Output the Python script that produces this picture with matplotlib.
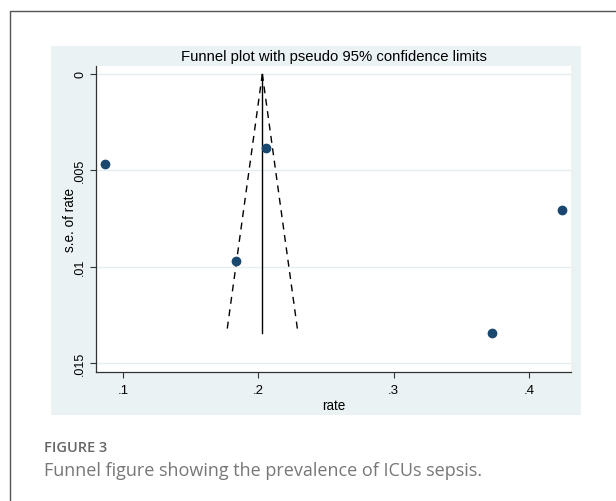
import matplotlib.pyplot as plt
from matplotlib.patches import Rectangle
from matplotlib.lines import Line2D

# Study estimates
rate = [0.0863, 0.2055, 0.4245, 0.1832, 0.3728]
se_rate = [0.00467, 0.00383, 0.00706, 0.00969, 0.01346]

# Pooled estimate and funnel limits
pooled = 0.2029
se_max = 0.01346
z = 1.96

x_ticks = [0.1, 0.2, 0.3, 0.4]
x_tick_labels = [".1", ".2", ".3", ".4"]
y_ticks = [0, 0.005, 0.01, 0.015]
y_tick_labels = ["0", ".005", ".01", ".015"]

W, H = 616, 502
fig = plt.figure(figsize=(W / 100, H / 100), dpi=100)
fig.patch.set_facecolor("white")

# Stata graph region (light bluish background)
fig.patches.append(Rectangle((51 / W, 1 - 416 / H), (581 - 51) / W, (416 - 47) / H,
                             transform=fig.transFigure, facecolor="#eaf2f3",
                             edgecolor="none", zorder=0))

# Outer frame of the journal figure box
fig.lines.append(Line2D([10 / W, 10 / W, 1], [0, 1 - 12 / H, 1 - 12 / H],
                        transform=fig.transFigure, color="#555555", lw=1.0))

ax = fig.add_axes([96 / W, 1 - 372.7 / H, (571 - 96) / W, (372.7 - 67) / H])
ax.set_facecolor("white")
ax.set_zorder(1)

# Funnel: pooled line and pseudo 95% limits
ax.plot([pooled, pooled], [0, se_max], color="black", lw=1.0)
ax.plot([pooled, pooled - z * se_max], [0, se_max], color="black", lw=1.0,
        dashes=(5, 4))
ax.plot([pooled, pooled + z * se_max], [0, se_max], color="black", lw=1.0,
        dashes=(5, 4))

ax.plot(rate, se_rate, "o", color="#1a476f", ms=6, zorder=3)

ax.set_xlim(0.080, 0.431)
ax.set_ylim(0.01545, -0.000415)

for y in y_ticks:
    ax.axhline(y, color="#e4edf0", lw=1.0, zorder=0)

font = "Liberation Sans"
ax.set_xticks(x_ticks)
ax.set_xticklabels(x_tick_labels, family=font, fontsize=9.5)
ax.set_yticks(y_ticks)
ax.set_yticklabels(y_tick_labels, family=font, fontsize=9, rotation=90,
                   va="center")
ax.tick_params(axis="both", length=4, width=0.8, color="#333333", direction="out")
ax.tick_params(axis="x", pad=5)
ax.tick_params(axis="y", pad=3)

for side in ["top", "right"]:
    ax.spines[side].set_visible(False)
for side in ["left", "bottom"]:
    ax.spines[side].set_color("#333333")
    ax.spines[side].set_linewidth(0.9)

ax.set_xlabel("rate", family=font, fontsize=9.75, labelpad=1)
ax.set_ylabel("s.e. of rate", family=font, fontsize=9.75, labelpad=-2)
ax.set_title("Funnel plot with pseudo 95% confidence limits", family=font,
             fontsize=10.75, pad=4)

# Caption underneath
fig.text(44 / W, 1 - 448 / H, "FIGURE 3", family="Open Sans", fontsize=10.5,
         weight="semibold", color="#666666", va="center")
fig.text(44 / W, 1 - 471 / H, "Funnel figure showing the prevalence of ICUs sepsis.",
         family="Open Sans", fontsize=13, color="#777777", va="center")

plt.savefig("out.png", dpi=100)
